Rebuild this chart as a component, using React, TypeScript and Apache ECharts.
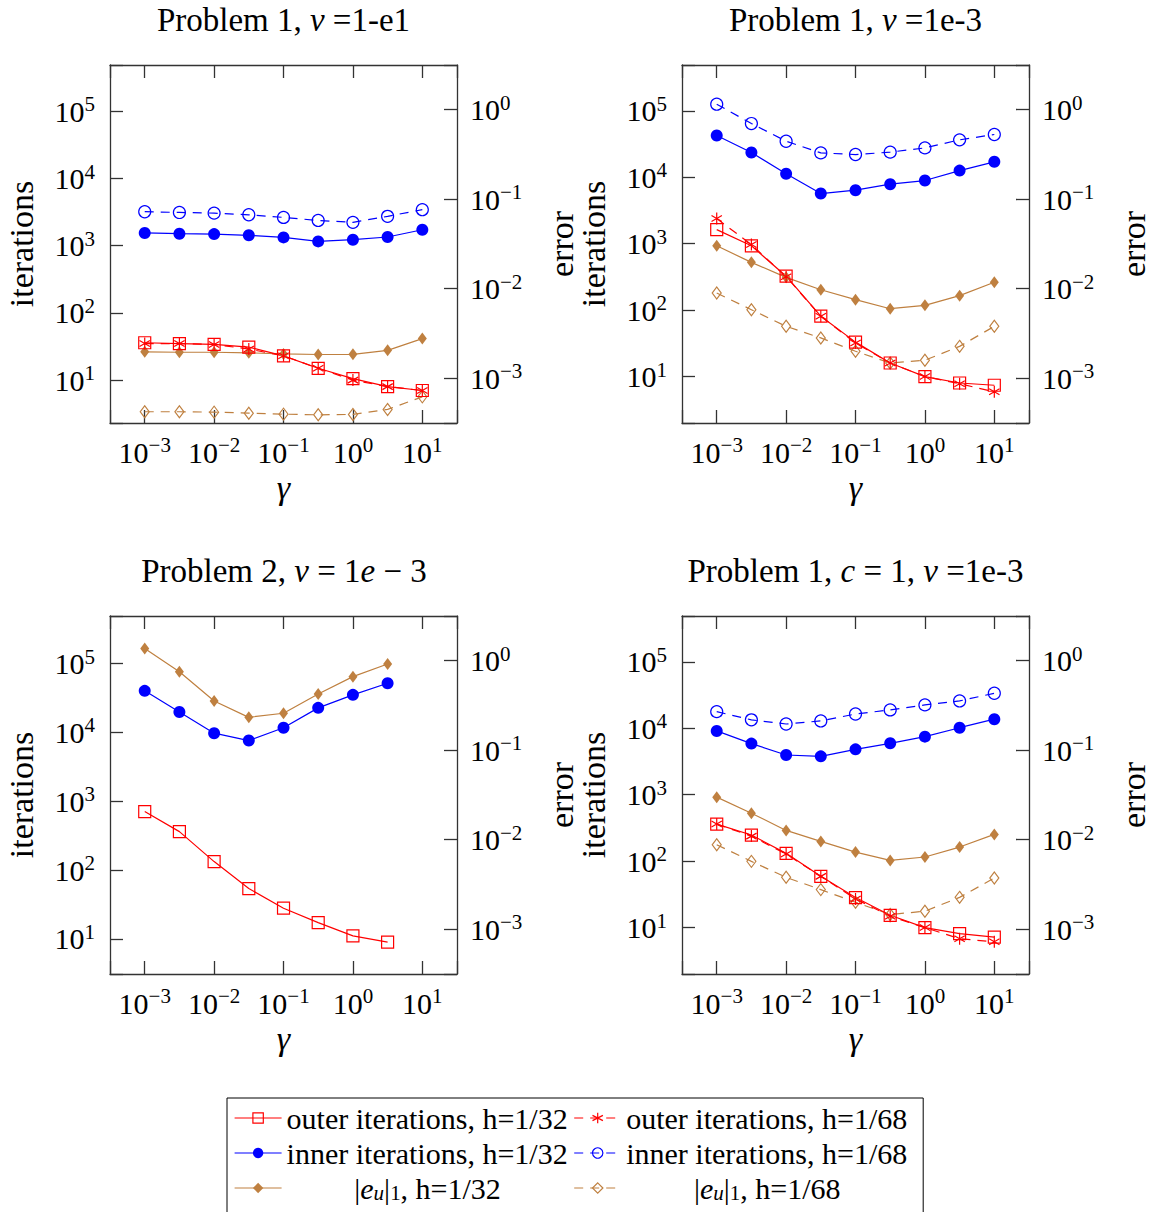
import React, { useEffect, useRef } from 'react';
import * as echarts from 'echarts';

const RED = '#ff0000';
const BLUE = '#0000ff';
const BROWN = '#bf8040';
const AXIS = '#333333';
const FONT = "'Liberation Serif', 'Times New Roman', serif";

// gamma values (x)
const gamma = [0.001, 0.00316, 0.01, 0.0316, 0.1, 0.316, 1, 3.16, 10];
const gammaP3 = [0.001, 0.00316, 0.01, 0.0316, 0.1, 0.316, 1, 3.16];

// Panel 1: Problem 1, nu = 1-e1
const p1Outer32 = [36, 35, 34, 31, 23, 15, 10.5, 8, 7];
const p1Outer68 = [35, 35, 34, 29, 23, 15, 10, 8, 7];
const p1Inner32 = [1550, 1510, 1490, 1430, 1330, 1160, 1230, 1350, 1730];
const p1Inner68 = [3210, 3130, 3060, 2890, 2640, 2380, 2230, 2740, 3440];
const p1Err32 = [1.97e-3, 1.95e-3, 1.95e-3, 1.92e-3, 1.87e-3, 1.84e-3, 1.85e-3, 2.05e-3, 2.77e-3];
const p1Err68 = [4.22e-4, 4.22e-4, 4.18e-4, 4.07e-4, 3.97e-4, 3.9e-4, 3.94e-4, 4.48e-4, 6.19e-4];

// Panel 2: Problem 1, nu = 1e-3
const p2Outer32 = [1630, 930, 324, 81, 33, 16, 10, 8, 7.4];
const p2Outer68 = [2390, 970, 319, 81, 32, 16, 10, 7.8, 5.9];
const p2Inner32 = [42600, 23600, 11300, 5690, 6390, 7870, 8930, 12600, 17100];
const p2Inner68 = [126000, 64400, 34900, 23300, 22000, 23900, 27700, 36600, 44100];
const p2Err32 = [0.0302, 0.0197, 0.0134, 0.00975, 0.00754, 0.00598, 0.00652, 0.00836, 0.0118];
const p2Err68 = [0.00895, 0.00583, 0.0038, 0.00282, 0.002, 0.00148, 0.00159, 0.00227, 0.0038];

// Panel 3: Problem 2, nu = 1e-3
const p3Outer32 = [708, 362, 133, 54, 28, 17.3, 11.1, 9.0];
const p3Inner32 = [40100, 19800, 9730, 7610, 11700, 22700, 35100, 51800];
const p3Err32 = [1.37, 0.753, 0.355, 0.233, 0.259, 0.425, 0.664, 0.918];

// Panel 4: Problem 1, c = 1, nu = 1e-3
const p4Outer32 = [361, 247, 131, 59, 28.3, 15.3, 10, 8.1, 7.2];
const p4Outer68 = [361, 238, 128, 59, 27, 14.8, 10, 6.8, 6.1];
const p4Inner32 = [9120, 5880, 3960, 3780, 4820, 5940, 7480, 10200, 13700];
const p4Inner68 = [17800, 13400, 11600, 12900, 16400, 18900, 22500, 25800, 33700];
const p4Err32 = [0.0299, 0.0198, 0.0127, 0.00958, 0.00728, 0.00587, 0.00641, 0.00828, 0.01146];
const p4Err68 = [0.00879, 0.00573, 0.0038, 0.00277, 0.002, 0.00146, 0.00159, 0.00227, 0.00373];

// axis ranges
const xMin = 0.000316;
const xMax = 31.6;
const iterMax = 490000;
const iterMins = [2.3, 2.0, 3.1, 2.0];
const errMin = 0.000316;
const errMax = 3.16;

const titles = [
  '{t|Problem 1, }{i|\u03bd}{t| =1-e1}',
  '{t|Problem 1, }{i|\u03bd}{t| =1e-3}',
  '{t|Problem 2, }{i|\u03bd}{t| = 1}{i|e}{t| \u2212 3}',
  '{t|Problem 1, }{i|c}{t| = 1, }{i|\u03bd}{t| =1e-3}',
];

const N_OUT32 = 'outer iterations, h=1/32';
const N_OUT68 = 'outer iterations, h=1/68';
const N_IN32 = 'inner iterations, h=1/32';
const N_IN68 = 'inner iterations, h=1/68';
const N_ERR32 = '|e_u|_1, h=1/32';
const N_ERR68 = '|e_u|_1, h=1/68';

const legendText: Record<string, string> = {
  [N_OUT32]: '{t|outer iterations, h=1/32}',
  [N_OUT68]: '{t|outer iterations, h=1/68}',
  [N_IN32]: '{t|inner iterations, h=1/32}',
  [N_IN68]: '{t|inner iterations, h=1/68}',
  [N_ERR32]: '{c||}{ci|e}{cs|u}{c||}{cs1|1}{c|, h=1/32}',
  [N_ERR68]: '{c||}{ci|e}{cs|u}{c||}{cs1|1}{c|, h=1/68}',
};

const ASTERISK = 'path://M6,0L6,12M0.8,3L11.2,9M0.8,9L11.2,3';

const panels = [
  { left: 110, top: 65, cx: 283.5, cy: 20, x: gamma, outer32: p1Outer32, outer68: p1Outer68, inner32: p1Inner32, inner68: p1Inner68, err32: p1Err32, err68: p1Err68 },
  { left: 682, top: 65, cx: 855.5, cy: 20, x: gamma, outer32: p2Outer32, outer68: p2Outer68, inner32: p2Inner32, inner68: p2Inner68, err32: p2Err32, err68: p2Err68 },
  { left: 110, top: 616, cx: 284, cy: 570.5, x: gammaP3, outer32: p3Outer32, outer68: null, inner32: p3Inner32, inner68: null, err32: p3Err32, err68: null },
  { left: 682, top: 616, cx: 855.5, cy: 570.5, x: gamma, outer32: p4Outer32, outer68: p4Outer68, inner32: p4Inner32, inner68: p4Inner68, err32: p4Err32, err68: p4Err68 },
];

const tickRich = {
  b: { fontFamily: FONT, fontSize: 30, lineHeight: 30, color: '#000' },
  s: { fontFamily: FONT, fontSize: 21, height: 16, lineHeight: 16, verticalAlign: 'top', color: '#000' },
};

function powerLabel(v: number): string {
  const e = Math.log10(v);
  const r = Math.round(e);
  if (Math.abs(e - r) > 1e-6) return '';
  return `{b|10}{s|${r < 0 ? '\u2212' + -r : r}}`;
}

const axisLine = { show: true, onZero: false, lineStyle: { color: AXIS, width: 1.3 } };
const axisTick = { show: true, inside: true, length: 13, lineStyle: { color: AXIS, width: 1.3 } };
const nameStyle = { fontFamily: FONT, fontSize: 34, lineHeight: 34, color: '#000' };

function zip(xs: number[], ys: number[]) {
  return ys.map((y, i) => [xs[i], y]);
}

function buildOption() {
  const grid: any[] = [];
  const xAxis: any[] = [];
  const yAxis: any[] = [];
  const series: any[] = [];
  const title: any[] = [];

  panels.forEach((p, i) => {
    grid.push({ left: p.left, top: p.top, width: 347, height: 358 });
    title.push({
      text: titles[i],
      left: p.cx,
      top: p.cy,
      textAlign: 'center',
      textVerticalAlign: 'middle',
      padding: 0,
      textStyle: {
        fontFamily: FONT,
        fontSize: 33,
        fontWeight: 'normal',
        color: '#000',
        rich: {
          t: { fontFamily: FONT, fontSize: 33, color: '#000' },
          i: { fontFamily: FONT, fontSize: 33, fontStyle: 'italic', color: '#000' },
        },
      },
    });
    xAxis.push({
      type: 'log', logBase: 10, gridIndex: i, position: 'bottom', min: xMin, max: xMax,
      axisLine, axisTick,
      axisLabel: { show: true, margin: 14, formatter: powerLabel, rich: tickRich },
      splitLine: { show: false },
      name: '\u03b3', nameLocation: 'middle', nameGap: 47,
      nameTextStyle: { ...nameStyle, fontStyle: 'italic' },
    });
    xAxis.push({
      type: 'log', logBase: 10, gridIndex: i, position: 'top', min: xMin, max: xMax,
      axisLine, axisTick, axisLabel: { show: false }, splitLine: { show: false },
    });
    yAxis.push({
      type: 'log', logBase: 10, gridIndex: i, position: 'left', min: iterMins[i], max: iterMax,
      axisLine, axisTick,
      axisLabel: { show: true, margin: 15, formatter: powerLabel, rich: tickRich },
      splitLine: { show: false },
      name: 'iterations', nameLocation: 'middle', nameRotate: 90, nameGap: 72,
      nameTextStyle: nameStyle,
    });
    yAxis.push({
      type: 'log', logBase: 10, gridIndex: i, position: 'right', min: errMin, max: errMax,
      axisLine, axisTick,
      axisLabel: { show: true, margin: 13, formatter: powerLabel, rich: tickRich },
      splitLine: { show: false },
      name: 'error', nameLocation: 'middle', nameRotate: 90, nameGap: 87,
      nameTextStyle: nameStyle,
    });

    const xi = 2 * i;
    const yIter = 2 * i;
    const yErr = 2 * i + 1;
    const base = { type: 'line', xAxisIndex: xi, silent: true, emphasis: { disabled: true } };

    if (p.err68) {
      series.push({
        ...base, name: N_ERR68, yAxisIndex: yErr, data: zip(p.x, p.err68),
        symbol: 'diamond', symbolSize: [9, 12],
        itemStyle: { color: 'none', borderColor: BROWN, borderWidth: 1.2 },
        lineStyle: { color: BROWN, width: 1.2, type: [9, 7] },
      });
    }
    series.push({
      ...base, name: N_ERR32, yAxisIndex: yErr, data: zip(p.x, p.err32),
      symbol: 'diamond', symbolSize: [9, 12],
      itemStyle: { color: BROWN, borderWidth: 0 },
      lineStyle: { color: BROWN, width: 1.2, type: 'solid' },
    });
    if (p.inner68) {
      series.push({
        ...base, name: N_IN68, yAxisIndex: yIter, data: zip(p.x, p.inner68),
        symbol: 'circle', symbolSize: 12,
        itemStyle: { color: 'none', borderColor: BLUE, borderWidth: 1.2 },
        lineStyle: { color: BLUE, width: 1.2, type: [9, 7] },
      });
    }
    series.push({
      ...base, name: N_IN32, yAxisIndex: yIter, data: zip(p.x, p.inner32),
      symbol: 'circle', symbolSize: 12,
      itemStyle: { color: BLUE, borderWidth: 0 },
      lineStyle: { color: BLUE, width: 1.2, type: 'solid' },
    });
    if (p.outer68) {
      series.push({
        ...base, name: N_OUT68, yAxisIndex: yIter, data: zip(p.x, p.outer68),
        symbol: ASTERISK, symbolSize: 12, symbolKeepAspect: true,
        itemStyle: { color: 'none', borderColor: RED, borderWidth: 1.2 },
        lineStyle: { color: RED, width: 1.2, type: [9, 7] },
      });
    }
    series.push({
      ...base, name: N_OUT32, yAxisIndex: yIter, data: zip(p.x, p.outer32),
      symbol: 'rect', symbolSize: 12,
      itemStyle: { color: 'none', borderColor: RED, borderWidth: 1.2 },
      lineStyle: { color: RED, width: 1.2, type: 'solid' },
    });
  });

  const LF = 30;
  const legendRich = {
    t: { fontFamily: FONT, fontSize: LF, lineHeight: 30, color: '#000' },
    c: { fontFamily: FONT, fontSize: LF, lineHeight: 30, align: 'center', color: '#000' },
    ci: { fontFamily: FONT, fontSize: LF, lineHeight: 30, align: 'center', fontStyle: 'italic', color: '#000' },
    cs: { fontFamily: FONT, fontSize: 21, height: 20, verticalAlign: 'bottom', align: 'center', fontStyle: 'italic', color: '#000' },
    cs1: { fontFamily: FONT, fontSize: 21, height: 20, verticalAlign: 'bottom', align: 'center', color: '#000' },
  };

  return {
    animation: false,
    backgroundColor: '#ffffff',
    title,
    grid,
    xAxis,
    yAxis,
    series,
    legend: {
      data: [N_OUT32, N_OUT68, N_IN32, N_IN68, N_ERR32, N_ERR68],
      orient: 'horizontal',
      left: 227,
      top: 1098,
      width: 680,
      padding: [5, 15, 14, 7],
      itemGap: 5,
      itemWidth: 47,
      itemHeight: 13,
      borderColor: '#000',
      borderWidth: 1,
      selectedMode: false,
      lineStyle: { width: 1.2 },
      itemStyle: { borderWidth: 1.2 },
      formatter: (name: string) => legendText[name] || name,
      textStyle: {
        fontFamily: FONT, fontSize: LF, color: '#000', width: 282,
        backgroundColor: 'rgba(255,255,255,0)',
        rich: legendRich,
      },
    },
  };
}

export default function App() {
  const ref = useRef<HTMLDivElement>(null);
  useEffect(() => {
    if (!ref.current) return;
    const chart = echarts.init(ref.current, undefined, { renderer: 'svg' });
    chart.setOption(buildOption() as any);
    return () => chart.dispose();
  }, []);
  return (
    <div
      ref={ref}
      style={{ position: 'fixed', left: 0, top: 0, width: 1152, height: 1212, background: '#fff' }}
    />
  );
}
